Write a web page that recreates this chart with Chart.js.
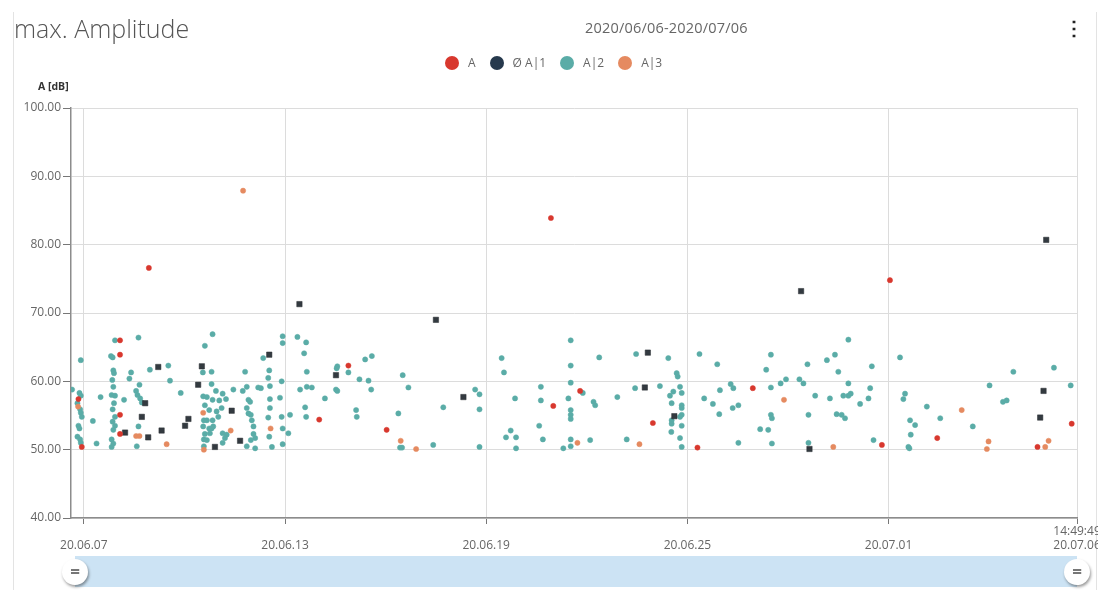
<!DOCTYPE html>
<html>
<head>
<meta charset="utf-8">
<script src="https://cdn.jsdelivr.net/npm/chart.js@4.4.0/dist/chart.umd.min.js"></script>
<style>
  body { margin: 0; background: #fff; font-family: "Open Sans", sans-serif; }
  #karte { position: absolute; left: 0; top: 0; width: 1098px; height: 590px; overflow: hidden; }
  #rahmen { position: absolute; left: 13px; top: 12px; width: 1084px; height: 590px;
            border-left: 1px solid #e3e3e3; border-right: 1px solid #e3e3e3; box-sizing: border-box; }
  #titel { position: absolute; left: 14px; top: 13px; font-size: 25px; line-height: 30px; color: #555; font-weight: 300; }
  #zeitraum { position: absolute; left: 585px; top: 18px; font-size: 14.5px; line-height: 20px; color: #666; letter-spacing: 0.2px; }
  #menue { position: absolute; left: 1064px; top: 16px; font-size: 20px; font-weight: bold; color: #222; line-height: 24px; }
  #legende { position: absolute; left: 445px; top: 54px; display: flex; align-items: center; font-size: 12px; color: #666; }
  #legende span.punkt { display: inline-block; width: 14px; height: 14px; border-radius: 50%; margin-right: 9px; }
  #legende span.text { margin-right: 14px; }
  #einheit { position: absolute; left: 38px; top: 79px; font-size: 10.5px; font-weight: bold; color: #333; }
  #grafik { position: absolute; left: 0; top: 0; }
  #regler { position: absolute; left: 75px; top: 556px; width: 1002px; height: 31px; background: #cce3f4; }
  .griff { position: absolute; width: 26px; height: 26px; border-radius: 50%; background: #fff;
           box-shadow: 1px 2px 3px rgba(0,0,0,0.4); text-align: center; font-size: 17px; line-height: 25px;
           color: #777; font-weight: bold; }
</style>
</head>
<body>
<div id="karte">
  <div id="rahmen"></div>
  <canvas id="grafik" width="1150" height="590"></canvas>
  <div id="titel">max. Amplitude</div>
  <div id="zeitraum">2020/06/06-2020/07/06</div>
  <div id="menue">⋮</div>
  <div id="legende"></div>
  <div id="einheit">A [dB]</div>
  <div id="regler"></div>
  <div class="griff" style="left:62px;top:559px">=</div>
  <div class="griff" style="left:1064px;top:559px">=</div>
</div>
<script>
// x = Tage seit 20.06.07 00:00, y = dB
const xMin = -0.382;
const xMax = 29.618;
const xTickDays = [0, 6, 12, 18, 24, 29.618];
const xTickLabels = ["20.06.07", "20.06.13", "20.06.19", "20.06.25", "20.07.01", "20.07.06"];
const endZeit = "14:49:49";
const yTicks = [40, 50, 60, 70, 80, 90, 100];

const serienNamen = ["A", "Ø A|1", "A|2", "A|3"];
const serienFarben = ["#d8382e", "#26394d", "#5aaca7", "#e58a60"];

const werteA = [
  [-0.16, 57.4], [-0.06, 50.4], [1.08, 66.0], [1.08, 63.9], [1.08, 55.1], [1.08, 52.3], [1.94, 76.6],
  [7.02, 54.4], [7.89, 62.3], [9.03, 52.9], [13.93, 83.9], [14.80, 58.6], [14.00, 56.4], [16.97, 53.9],
  [18.30, 50.3], [19.95, 59.0], [23.80, 50.7], [24.04, 74.8], [25.45, 51.7], [28.44, 50.4], [29.46, 53.8]
];

const werteA1 = [
  [1.83, 56.8], [1.73, 54.8], [1.23, 52.5], [1.92, 51.8], [2.22, 62.1], [2.32, 52.8], [3.02, 53.5],
  [3.12, 54.5], [3.41, 59.5], [3.52, 62.2], [3.91, 50.4], [4.41, 55.7], [4.66, 51.3], [5.53, 63.9],
  [6.43, 71.3], [7.52, 60.9], [10.50, 69.0], [11.32, 57.7], [16.73, 59.1], [16.82, 64.2], [17.61, 54.9],
  [21.39, 73.2], [21.64, 50.1], [28.52, 54.7], [28.62, 58.6], [28.70, 80.7]
];

const werteA2 = [
  [-0.09, 63.1], [-0.35, 58.8], [-0.13, 58.3], [-0.09, 57.9], [-0.19, 56.8], [-0.11, 55.9], [-0.09, 55.4],
  [-0.06, 54.8], [-0.16, 53.5], [-0.13, 53.1], [-0.19, 51.9], [-0.11, 51.5], [-0.09, 51.0], [0.27, 54.2],
  [0.38, 50.9], [0.50, 57.7],
  [0.93, 66.0], [1.63, 66.4], [0.81, 63.7], [0.86, 63.5], [0.88, 61.6], [0.90, 61.2], [1.41, 61.3],
  [1.36, 60.4], [0.85, 60.2], [0.88, 59.2], [1.66, 59.5], [1.56, 58.6], [1.60, 58.0], [0.83, 58.0],
  [0.93, 57.9], [1.20, 57.3], [1.68, 57.5], [1.73, 56.9], [0.90, 56.8], [0.86, 55.9], [0.93, 54.8],
  [0.86, 54.1], [0.93, 53.5], [1.63, 53.4], [0.88, 52.9], [0.83, 51.5], [0.88, 50.9], [1.58, 50.5],
  [0.83, 50.4],
  [1.97, 61.7], [2.52, 62.3], [2.57, 60.1], [2.89, 58.3], [3.84, 66.9], [3.61, 65.2], [3.55, 61.3],
  [3.81, 61.4], [3.81, 59.6], [3.56, 57.8], [3.67, 57.7], [3.94, 58.6], [3.84, 57.3], [4.14, 58.2],
  [4.04, 57.2], [4.24, 57.4], [4.46, 58.8], [4.74, 58.6], [3.61, 56.5], [3.74, 55.8], [3.96, 55.6],
  [4.11, 56.1], [3.58, 54.3], [3.67, 54.3], [3.84, 54.3], [4.01, 54.8], [3.56, 53.4], [3.74, 53.1],
  [3.81, 53.1], [3.86, 53.4], [3.61, 52.3], [3.76, 52.4], [4.14, 52.4], [4.26, 52.2], [3.67, 51.4],
  [3.58, 51.5], [4.21, 51.7], [4.14, 51.0], [3.58, 50.5],
  [4.81, 61.4], [4.86, 59.2], [4.91, 57.3], [4.96, 57.0], [4.86, 56.1], [4.91, 55.3], [4.98, 55.1],
  [5.01, 54.3], [5.06, 53.4], [5.06, 52.3], [5.11, 51.7], [4.98, 51.4], [4.86, 50.5], [5.11, 50.2],
  [5.20, 59.1], [5.28, 59.0], [5.35, 63.4], [5.53, 61.6], [5.50, 60.5], [5.55, 59.3], [5.55, 57.4],
  [5.55, 56.1], [5.50, 54.7], [5.53, 51.9], [5.61, 50.4], [5.85, 57.6], [5.90, 54.8], [5.93, 53.1],
  [5.93, 50.8], [6.10, 52.4], [6.15, 55.1], [5.93, 66.6], [5.93, 65.6], [6.37, 66.5], [6.63, 65.7],
  [5.90, 60.0], [6.45, 58.8], [6.65, 59.2], [6.65, 61.4], [6.57, 64.1],
  [6.80, 59.1], [7.19, 57.5], [6.60, 56.2], [6.63, 54.8], [7.54, 61.9], [7.56, 62.2], [7.89, 61.3],
  [7.52, 58.8], [7.56, 58.6], [8.39, 63.2], [8.59, 63.7], [8.22, 60.3], [8.49, 60.1], [8.57, 58.8],
  [8.12, 55.8], [8.14, 54.8], [9.51, 60.9], [9.68, 59.1], [9.38, 55.3], [9.43, 50.3], [9.49, 50.3],
  [10.42, 50.7], [10.72, 56.2], [11.67, 58.8], [11.80, 58.1], [11.80, 55.9], [11.80, 50.4],
  [12.46, 63.4], [12.53, 61.3], [12.86, 57.5], [12.73, 52.8], [12.59, 51.8], [12.89, 51.8], [12.89, 50.2],
  [13.63, 59.2], [13.63, 57.2], [13.58, 53.5], [13.69, 51.5],
  [14.52, 66.0], [14.52, 62.3], [14.52, 59.8], [14.88, 58.3], [14.45, 57.5], [15.20, 57.0], [15.25, 56.5],
  [14.52, 55.8], [14.52, 55.1], [14.52, 54.5], [14.52, 51.5], [14.52, 50.5], [14.30, 50.2], [15.10, 51.4],
  [15.37, 63.5], [15.91, 57.7], [16.19, 51.5], [16.47, 64.0], [16.44, 59.0], [17.18, 59.3], [17.43, 63.4],
  [17.68, 61.2], [17.71, 60.7], [17.48, 57.9], [17.58, 58.5], [17.78, 59.2], [17.83, 58.3], [17.53, 56.8],
  [17.83, 56.5], [17.83, 56.1], [17.83, 55.1], [17.78, 54.8], [17.53, 54.3], [17.53, 53.8], [17.83, 53.5],
  [17.52, 52.6], [17.78, 51.7], [17.83, 50.4], [18.36, 64.0], [18.89, 62.5], [18.50, 57.5], [18.76, 56.7],
  [18.97, 58.7], [19.29, 59.6], [19.37, 59.0], [18.95, 55.2], [19.35, 56.1], [19.52, 56.5], [19.52, 51.0],
  [20.17, 53.0], [20.41, 52.9], [20.49, 63.9], [20.35, 61.7], [20.49, 59.1], [20.78, 59.7], [20.94, 60.3],
  [20.49, 55.1], [20.52, 54.6], [20.52, 50.9],
  [21.34, 60.3], [21.46, 59.7], [21.58, 62.5], [22.16, 63.1], [22.40, 63.9], [22.80, 66.1], [22.50, 61.4],
  [23.50, 62.2], [22.80, 59.7], [21.81, 57.9], [22.25, 57.5], [22.65, 57.9], [22.80, 57.9], [22.87, 58.2],
  [23.15, 56.7], [23.40, 57.5], [23.45, 59.0], [21.61, 55.1], [22.45, 55.2], [22.60, 55.1], [22.70, 54.6],
  [21.61, 51.0], [23.55, 51.4], [24.34, 63.5], [24.49, 58.2], [24.44, 57.4], [25.14, 56.3], [24.64, 54.3],
  [24.79, 53.6], [24.66, 52.2], [24.59, 50.4], [24.62, 50.2], [25.54, 54.6], [26.51, 53.4], [27.01, 59.4],
  [27.41, 57.0], [27.52, 57.2], [27.72, 61.4], [28.93, 62.0], [29.43, 59.4]
];

const werteA3 = [
  [-0.17, 56.3], [1.56, 52.0], [1.66, 52.0], [2.47, 50.8], [3.56, 55.4], [3.58, 50.0], [4.38, 52.8],
  [4.75, 87.9], [5.57, 53.1], [9.45, 51.3], [9.91, 50.1], [14.72, 51.0], [16.57, 50.8], [20.88, 57.3],
  [22.35, 50.4], [26.18, 55.8], [26.98, 51.2], [26.93, 50.1], [28.77, 51.3], [28.67, 50.4]
];

const alleWerte = [werteA, werteA1, werteA2, werteA3];

// Legende als HTML
const legende = document.getElementById("legende");
serienNamen.forEach((name, i) => {
  const p = document.createElement("span");
  p.className = "punkt";
  p.style.background = serienFarben[i];
  const t = document.createElement("span");
  t.className = "text";
  t.textContent = name;
  legende.appendChild(p);
  legende.appendChild(t);
});

const endLabelPlugin = {
  id: "endLabel",
  afterDraw(chart) {
    const ctx = chart.ctx;
    const x = chart.scales.x.getPixelForValue(xMax);
    ctx.save();
    ctx.font = "12px 'Open Sans'";
    ctx.fillStyle = "#666";
    ctx.textAlign = "center";
    ctx.textBaseline = "middle";
    ctx.fillText(endZeit, x, 532);
    ctx.restore();
  }
};

const datensaetze = alleWerte.map((werte, i) => ({
  label: serienNamen[i],
  data: werte.map(w => ({ x: w[0], y: w[1] })),
  backgroundColor: serienFarben[i],
  borderColor: i === 1 ? "#2b2f33" : serienFarben[i],
  pointStyle: i === 1 ? "rect" : "circle",
  pointRadius: i === 1 ? 3.8 : 2.6,
  pointBorderWidth: 0.5
}));
// Reihenfolge: Quadrate und rote Punkte oben
datensaetze[1].backgroundColor = "#333a40";
datensaetze[0].order = 0;
datensaetze[1].order = 1;
datensaetze[3].order = 2;
datensaetze[2].order = 3;

new Chart(document.getElementById("grafik"), {
  type: "scatter",
  data: { datasets: datensaetze },
  plugins: [endLabelPlugin],
  options: {
    responsive: false,
    animation: false,
    layout: { padding: { left: 0, top: 108, right: 73, bottom: 32 } },
    plugins: { legend: { display: false }, tooltip: { enabled: false } },
    scales: {
      x: {
        type: "linear",
        min: xMin,
        max: xMax,
        afterFit: s => { s.height = 40; },
        afterBuildTicks: s => { s.ticks = xTickDays.map(v => ({ value: v })); },
        grid: { color: "#dcdcdc", tickColor: "#777", tickLength: 6 },
        border: { color: "#8c8c8c", width: 1.5 },
        ticks: {
          autoSkip: false,
          maxRotation: 0,
          padding: 14,
          color: "#666",
          font: { family: "Open Sans", size: 12 },
          callback: (v, i) => xTickLabels[i]
        }
      },
      y: {
        min: 40,
        max: 100,
        afterFit: s => { s.width = 71; },
        afterBuildTicks: s => { s.ticks = yTicks.map(v => ({ value: v })); },
        grid: { color: "#dcdcdc", tickColor: "#777", tickLength: 8 },
        border: { color: "#8c8c8c", width: 1.5 },
        ticks: {
          padding: 2,
          color: "#666",
          font: { family: "Open Sans", size: 12 },
          callback: v => v.toFixed(2)
        }
      }
    }
  }
});
</script>
</body>
</html>
